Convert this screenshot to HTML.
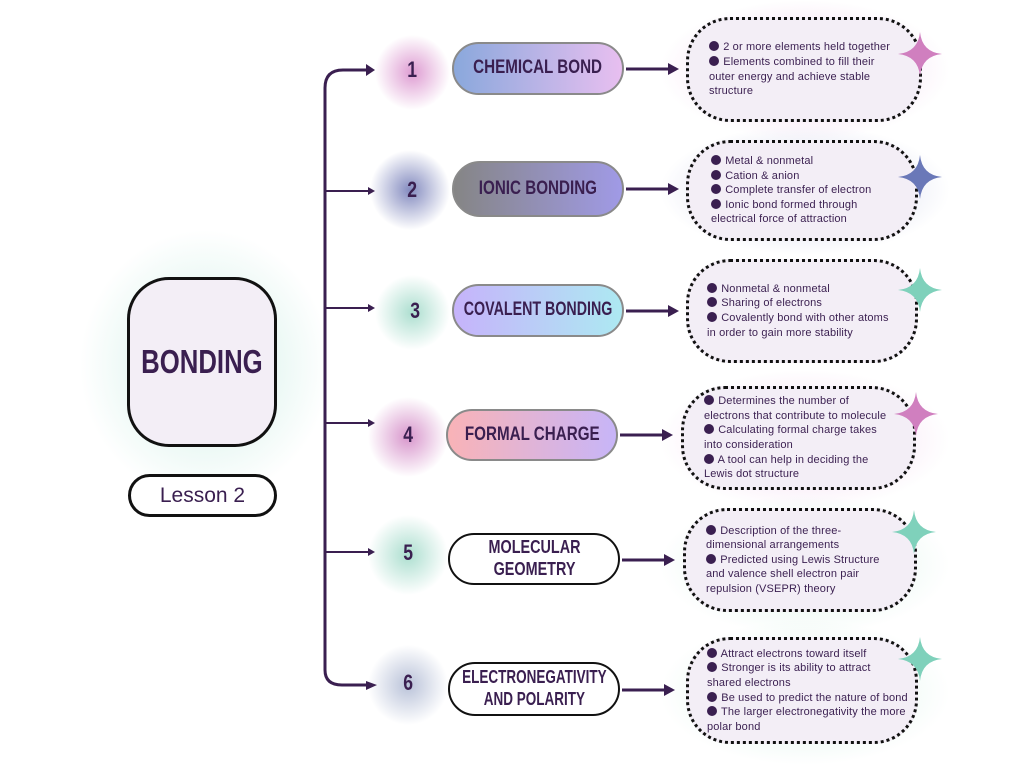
<!DOCTYPE html>
<html><head><meta charset="utf-8"><style>
*{margin:0;padding:0;box-sizing:border-box}
body{width:1024px;height:768px;background:#fff;position:relative;overflow:hidden;font-family:"Liberation Sans",sans-serif;color:#3a1f50}
.a{position:absolute}
.glow{position:absolute;border-radius:50%}
.pill{position:absolute;border-radius:28px;border:2px solid #8a8a8a;display:flex;align-items:center;justify-content:center;text-align:center}
.pill span,.num span,.big span{display:inline-block;font-weight:bold;transform:scaleX(.8);white-space:nowrap;line-height:1.2}
.pill span{font-size:19px}
.num{position:absolute;width:40px;text-align:center;font-size:22px}
.box{position:absolute;border:3.5px dotted #111;border-radius:44px;background:#f3eef6;font-size:11px;line-height:14.6px;padding:0 4px 0 20px;display:flex;flex-direction:column;justify-content:center;white-space:nowrap;letter-spacing:.15px}
.box b{display:inline-block;width:10px;height:10px;border-radius:50%;background:#3a1f50;vertical-align:-1px;margin-right:1px}
.star{position:absolute;width:44px;height:44px}
</style></head><body>
<div class="glow" style="left:80px;top:230px;width:250px;height:270px;background:radial-gradient(closest-side,rgba(150,220,200,.45),rgba(150,220,200,0))"></div>
<div class="glow" style="left:375px;top:35px;width:75px;height:75px;background:radial-gradient(closest-side,rgba(200,90,180,.6),rgba(200,90,180,0))"></div>
<div class="glow" style="left:370px;top:150px;width:80px;height:80px;background:radial-gradient(closest-side,rgba(90,100,170,.75),rgba(90,100,170,0))"></div>
<div class="glow" style="left:375px;top:275px;width:75px;height:75px;background:radial-gradient(closest-side,rgba(90,190,160,.5),rgba(90,190,160,0))"></div>
<div class="glow" style="left:368px;top:397px;width:80px;height:80px;background:radial-gradient(closest-side,rgba(190,80,170,.6),rgba(190,80,170,0))"></div>
<div class="glow" style="left:368px;top:515px;width:80px;height:80px;background:radial-gradient(closest-side,rgba(90,190,160,.5),rgba(90,190,160,0))"></div>
<div class="glow" style="left:368px;top:645px;width:80px;height:80px;background:radial-gradient(closest-side,rgba(100,120,170,.45),rgba(100,120,170,0))"></div>
<div class="glow" style="left:660px;top:0px;width:290px;height:140px;background:radial-gradient(closest-side,rgba(220,140,210,.4),rgba(220,140,210,0))"></div>
<div class="glow" style="left:660px;top:125px;width:290px;height:130px;background:radial-gradient(closest-side,rgba(130,140,200,.4),rgba(130,140,200,0))"></div>
<div class="glow" style="left:660px;top:370px;width:290px;height:140px;background:radial-gradient(closest-side,rgba(220,140,210,.35),rgba(220,140,210,0))"></div>
<div class="glow" style="left:660px;top:495px;width:290px;height:140px;background:radial-gradient(closest-side,rgba(150,220,190,.35),rgba(150,220,190,0))"></div>
<div class="glow" style="left:660px;top:620px;width:290px;height:145px;background:radial-gradient(closest-side,rgba(150,220,190,.35),rgba(150,220,190,0))"></div>

<svg class="a" style="left:0;top:0" width="1024" height="768">
<g stroke="#3a1f50" stroke-width="3" fill="none">
<path d="M325 670 V88 Q325 70 343 70 H368"/>
<path d="M325 670 Q325 685 342 685 H368"/>
</g>
<g stroke="#3a1f50" stroke-width="2">
<line x1="325" y1="191" x2="370" y2="191"/>
<line x1="325" y1="308" x2="370" y2="308"/>
<line x1="325" y1="423" x2="370" y2="423"/>
<line x1="325" y1="552" x2="370" y2="552"/>
</g>
<g fill="#3a1f50">
<polygon points="366,64 375,70 366,76"/>
<polygon points="366,681 377,685 366,690"/>
<polygon points="368,187 375,191 368,195"/>
<polygon points="368,304 375,308 368,312"/>
<polygon points="368,419 375,423 368,427"/>
<polygon points="368,548 375,552 368,556"/>
</g>
<g stroke="#3a1f50" stroke-width="3">
<line x1="626" y1="69" x2="670" y2="69"/>
<line x1="626" y1="189" x2="670" y2="189"/>
<line x1="626" y1="311" x2="670" y2="311"/>
<line x1="620" y1="435" x2="664" y2="435"/>
<line x1="622" y1="560" x2="666" y2="560"/>
<line x1="622" y1="690" x2="666" y2="690"/>
</g>
<g fill="#3a1f50">
<polygon points="668,63 679,69 668,75"/>
<polygon points="668,183 679,189 668,195"/>
<polygon points="668,305 679,311 668,317"/>
<polygon points="662,429 673,435 662,441"/>
<polygon points="664,554 675,560 664,566"/>
<polygon points="664,684 675,690 664,696"/>
</g>
</svg>

<div class="a big" style="left:127px;top:277px;width:150px;height:170px;border:3px solid #111;border-radius:42px;background:#f3eef6;display:flex;align-items:center;justify-content:center"><span style="font-size:33px;transform:scaleX(.78)">BONDING</span></div>
<div class="a" style="left:128px;top:474px;width:149px;height:43px;border:3px solid #111;border-radius:22px;background:#fff;display:flex;align-items:center;justify-content:center;font-size:21px">Lesson 2</div>

<div class="num" style="left:392px;top:57px"><span>1</span></div>
<div class="num" style="left:392px;top:177px"><span>2</span></div>
<div class="num" style="left:395px;top:298px"><span>3</span></div>
<div class="num" style="left:388px;top:422px"><span>4</span></div>
<div class="num" style="left:388px;top:540px"><span>5</span></div>
<div class="num" style="left:388px;top:670px"><span>6</span></div>

<div class="pill" style="left:452px;top:42px;width:172px;height:53px;background:linear-gradient(90deg,#8aa8dc,#e8bff0)"><span>CHEMICAL BOND</span></div>
<div class="pill" style="left:452px;top:161px;width:172px;height:56px;background:linear-gradient(90deg,#858585,#a09ae6)"><span>IONIC BONDING</span></div>
<div class="pill" style="left:452px;top:284px;width:172px;height:53px;background:linear-gradient(90deg,#c6b3fb,#ade9f2)"><span style="transform:scaleX(.75)">COVALENT BONDING</span></div>
<div class="pill" style="left:446px;top:409px;width:172px;height:52px;background:linear-gradient(90deg,#f9b3b7,#c7b5f8)"><span>FORMAL CHARGE</span></div>
<div class="pill" style="left:448px;top:533px;width:172px;height:52px;background:#fff;border-color:#111"><span style="font-size:18px">MOLECULAR<br>GEOMETRY</span></div>
<div class="pill" style="left:448px;top:662px;width:172px;height:54px;background:#fff;border-color:#111"><span style="font-size:18px;transform:scaleX(.75)">ELECTRONEGATIVITY<br>AND POLARITY</span></div>

<div class="box" style="left:686px;top:17px;width:236px;height:105px"><div><b></b> 2 or more elements held together</div><div><b></b> Elements combined to fill their</div><div>outer energy and achieve stable</div><div>structure</div></div>
<div class="box" style="left:686px;top:140px;width:232px;height:101px;padding-left:22px"><div><b></b> Metal &amp; nonmetal</div><div><b></b> Cation &amp; anion</div><div><b></b> Complete transfer of electron</div><div><b></b> Ionic bond formed through</div><div>electrical force of attraction</div></div>
<div class="box" style="left:686px;top:259px;width:232px;height:104px;padding-left:18px"><div><b></b> Nonmetal &amp; nonmetal</div><div><b></b> Sharing of electrons</div><div><b></b> Covalently bond with other atoms</div><div>in order to gain more stability</div></div>
<div class="box" style="left:681px;top:386px;width:235px;height:104px;padding-left:20px;padding-right:0"><div><b></b> Determines the number of</div><div>electrons that contribute to molecule</div><div><b></b> Calculating formal charge takes</div><div>into consideration</div><div><b></b> A tool can help in deciding the</div><div>Lewis dot structure</div></div>
<div class="box" style="left:683px;top:508px;width:234px;height:104px;padding-left:20px"><div><b></b> Description of the three-</div><div>dimensional arrangements</div><div><b></b> Predicted using Lewis Structure</div><div>and valence shell electron pair</div><div>repulsion (VSEPR) theory</div></div>
<div class="box" style="left:686px;top:637px;width:232px;height:107px;padding-left:18px;padding-right:0"><div><b></b> Attract electrons toward itself</div><div><b></b> Stronger is its ability to attract</div><div>shared electrons</div><div><b></b> Be used to predict the nature of bond</div><div><b></b> The larger electronegativity the more</div><div>polar bond</div></div>

<svg class="star" style="left:898px;top:32px" viewBox="0 0 44 44"><path d="M22 0 Q24 20 44 22 Q24 24 22 44 Q20 24 0 22 Q20 20 22 0Z" fill="#d07fbf"/></svg>
<svg class="star" style="left:898px;top:155px" viewBox="0 0 44 44"><path d="M22 0 Q24 20 44 22 Q24 24 22 44 Q20 24 0 22 Q20 20 22 0Z" fill="#6a78b8"/></svg>
<svg class="star" style="left:898px;top:268px" viewBox="0 0 44 44"><path d="M22 0 Q24 20 44 22 Q24 24 22 44 Q20 24 0 22 Q20 20 22 0Z" fill="#7fd1bb"/></svg>
<svg class="star" style="left:894px;top:392px" viewBox="0 0 44 44"><path d="M22 0 Q24 20 44 22 Q24 24 22 44 Q20 24 0 22 Q20 20 22 0Z" fill="#d07fbf"/></svg>
<svg class="star" style="left:892px;top:510px" viewBox="0 0 44 44"><path d="M22 0 Q24 20 44 22 Q24 24 22 44 Q20 24 0 22 Q20 20 22 0Z" fill="#7fd1bb"/></svg>
<svg class="star" style="left:898px;top:637px" viewBox="0 0 44 44"><path d="M22 0 Q24 20 44 22 Q24 24 22 44 Q20 24 0 22 Q20 20 22 0Z" fill="#7fd1bb"/></svg>
</body></html>
